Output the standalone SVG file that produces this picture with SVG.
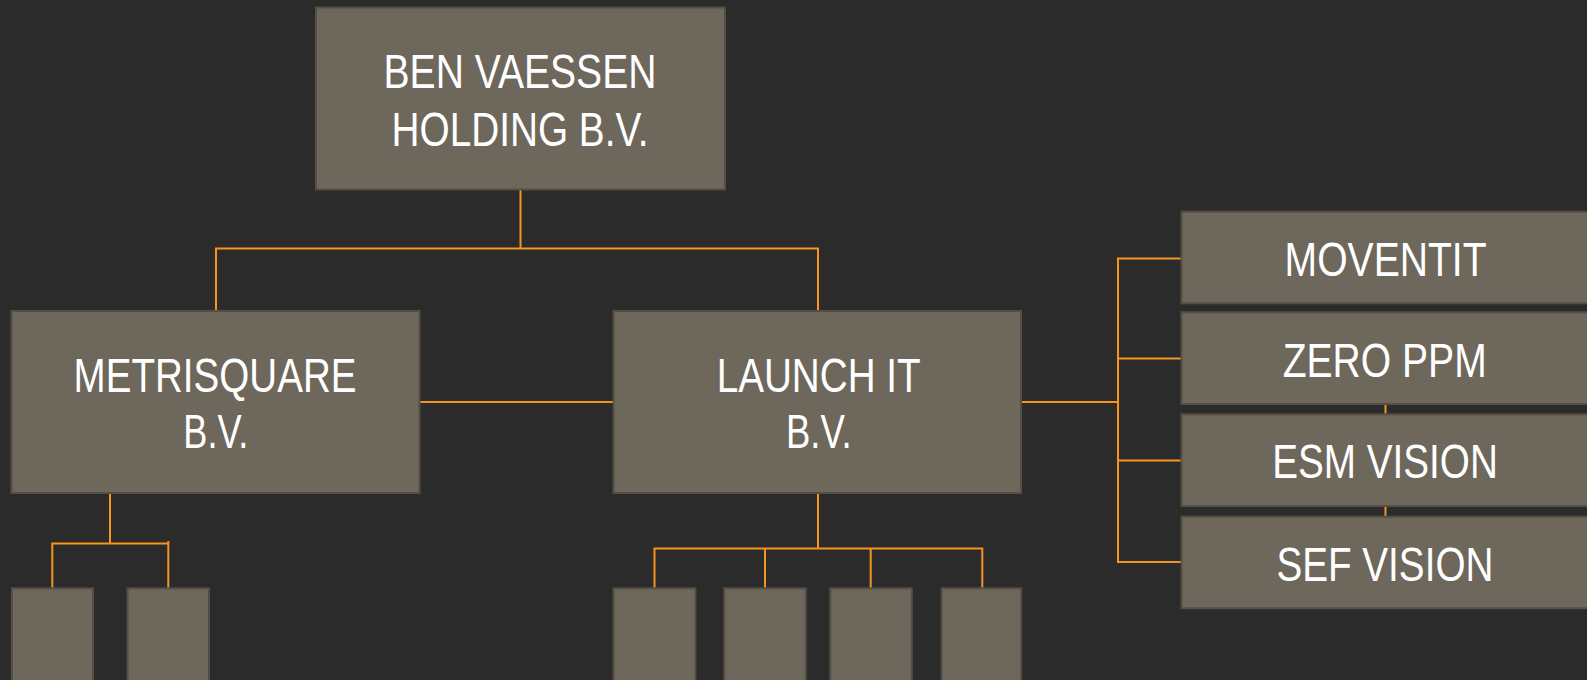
<svg xmlns="http://www.w3.org/2000/svg" width="1587" height="680" viewBox="0 0 1587 680">
<style>
.bg{fill:#2b2b2b}
.box{fill:#6e675b;stroke:#554e45;stroke-width:2}
.ln{stroke:#f7941d;stroke-width:2;fill:none}
.t{fill:#ffffff;font-family:"Liberation Sans Narrow","Liberation Sans",Arial,sans-serif;font-size:48px;text-anchor:middle}
</style>
<rect class="bg" x="0" y="0" width="1587" height="680"/>
<g id="connectors">
<path class="ln" d="M520.5 190 V248.5 M216 248.5 H818 M216 247.5 V311 M818 247.5 V311"/>
<path class="ln" d="M419 402 H613"/>
<path class="ln" d="M1021 402 H1118 M1118 257.5 V562.5 M1117 258.5 H1181 M1117 358.5 H1181 M1117 460.5 H1181 M1117 562 H1181"/>
<path class="ln" d="M1385.5 358 V562"/>
<path class="ln" d="M110 493 V543.5 M51.5 543.5 H169 M52.3 542.5 V588 M168.3 541 V588"/>
<path class="ln" d="M818 493 V548.5 M653.5 548.5 H983 M654.5 547.5 V588 M765 548.5 V588 M870.7 548.5 V588 M982.3 547.5 V588"/>
</g>
<g id="node-holding">
<rect class="box" x="316" y="7.5" width="409" height="182"/>
<text class="t" x="520" y="88" textLength="273" lengthAdjust="spacingAndGlyphs">BEN VAESSEN</text>
<text class="t" x="520" y="146" textLength="257" lengthAdjust="spacingAndGlyphs">HOLDING B.V.</text>
</g>
<g id="node-metrisquare">
<rect class="box" x="11.5" y="311" width="408" height="182"/>
<text class="t" x="215" y="391.7" textLength="283" lengthAdjust="spacingAndGlyphs">METRISQUARE</text>
<text class="t" x="215.8" y="448.3" textLength="65" lengthAdjust="spacingAndGlyphs">B.V.</text>
</g>
<g id="node-launchit">
<rect class="box" x="613.5" y="311" width="407.5" height="182"/>
<text class="t" x="818.7" y="391.7" textLength="204" lengthAdjust="spacingAndGlyphs">LAUNCH IT</text>
<text class="t" x="818.8" y="448.3" textLength="65.7" lengthAdjust="spacingAndGlyphs">B.V.</text>
</g>
<g id="node-moventit">
<rect class="box" x="1181.5" y="211.7" width="420" height="91.6"/>
<text class="t" x="1385.6" y="276" textLength="202" lengthAdjust="spacingAndGlyphs">MOVENTIT</text>
</g>
<g id="node-zeroppm">
<rect class="box" x="1181.5" y="312.3" width="420" height="91.7"/>
<text class="t" x="1384.7" y="376.7" textLength="204" lengthAdjust="spacingAndGlyphs">ZERO PPM</text>
</g>
<g id="node-esmvision">
<rect class="box" x="1181.5" y="414.3" width="420" height="91.7"/>
<text class="t" x="1385" y="478.3" textLength="225.7" lengthAdjust="spacingAndGlyphs">ESM VISION</text>
</g>
<g id="node-sefvision">
<rect class="box" x="1181.5" y="516.7" width="420" height="91.6"/>
<text class="t" x="1384.9" y="580.7" textLength="217" lengthAdjust="spacingAndGlyphs">SEF VISION</text>
</g>
<g id="node-m1"><rect class="box" x="12" y="588.3" width="81" height="110"/></g>
<g id="node-m2"><rect class="box" x="127.5" y="588.3" width="81.5" height="110"/></g>
<g id="node-l1"><rect class="box" x="613.5" y="588.3" width="82" height="110"/></g>
<g id="node-l2"><rect class="box" x="724.3" y="588.3" width="81.5" height="110"/></g>
<g id="node-l3"><rect class="box" x="830.3" y="588.3" width="81.5" height="110"/></g>
<g id="node-l4"><rect class="box" x="941.7" y="588.3" width="79.5" height="110"/></g>
</svg>
